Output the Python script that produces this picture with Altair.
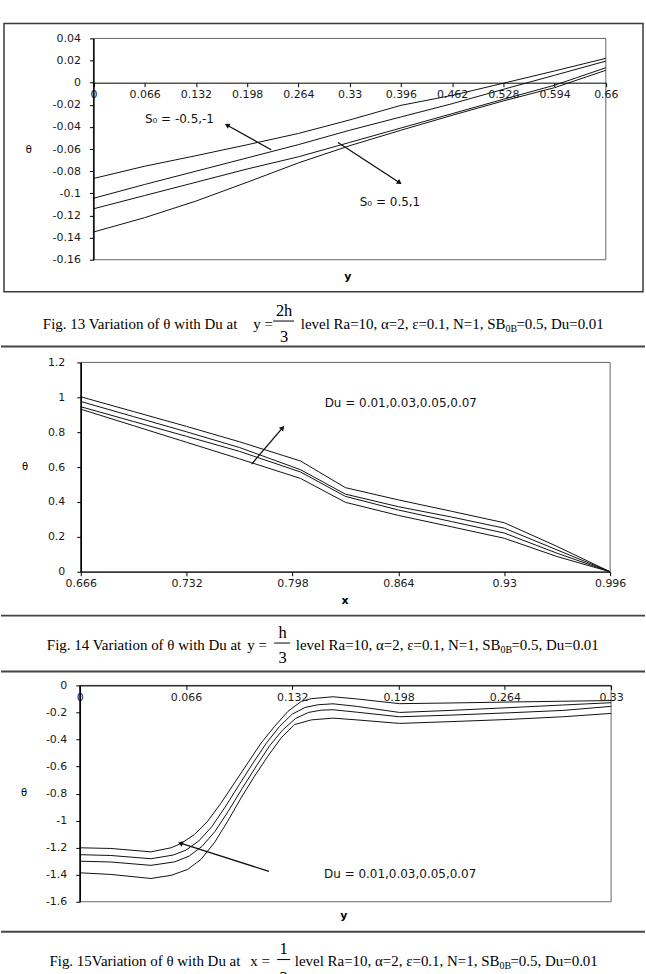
import math
import altair as alt
import pandas as pd

AXF = "DejaVu Sans"
CAPF = "Liberation Serif"
INK = "#111111"

# ================= Fig. 13 : theta vs y =================
f13_x = [0, 0.066, 0.132, 0.198, 0.264, 0.33, 0.396, 0.462, 0.528, 0.594, 0.66]
f13_s1 = [-0.0866, -0.0755, -0.0660, -0.0561, -0.0459, -0.0337, -0.0205, -0.0115, -0.0005, 0.0106, 0.0220]
f13_s2 = [-0.1045, -0.0920, -0.0800, -0.0680, -0.0560, -0.0430, -0.0310, -0.0190, -0.0060, 0.0067, 0.0195]
f13_s3 = [-0.1140, -0.1020, -0.0900, -0.0780, -0.0670, -0.0540, -0.0410, -0.0280, -0.0150, -0.0023, 0.0135]
f13_s4 = [-0.1350, -0.1220, -0.1070, -0.0900, -0.0725, -0.0570, -0.0430, -0.0295, -0.0165, -0.0045, 0.0112]
f13_xticks = [0, 0.066, 0.132, 0.198, 0.264, 0.33, 0.396, 0.462, 0.528, 0.594, 0.66]
f13_yticks = [0.04, 0.02, 0, -0.02, -0.04, -0.06, -0.08, -0.1, -0.12, -0.14, -0.16]
f13_lab_t = ["S\u2080 = -0.5,-1", "S\u2080 = 0.5,1"]
f13_lab_x = [0.1108, 0.382]
f13_lab_y = [-0.033, -0.1075]
f13_arr_tx = [0.229, 0.315]
f13_arr_ty = [-0.0606, -0.054]
f13_arr_hx = [0.173, 0.3935]
f13_arr_hy = [-0.0387, -0.090]

# ================= Fig. 14 : theta vs x =================
f14_x = [0.666, 0.699, 0.732, 0.765, 0.803, 0.831, 0.864, 0.897, 0.93, 0.963, 0.996]
f14_s1 = [1.003, 0.918, 0.833, 0.745, 0.635, 0.482, 0.412, 0.347, 0.281, 0.145, 0.0]
f14_s2 = [0.976, 0.889, 0.802, 0.712, 0.585, 0.445, 0.373, 0.314, 0.250, 0.125, 0.0]
f14_s3 = [0.946, 0.861, 0.776, 0.690, 0.572, 0.432, 0.354, 0.288, 0.222, 0.106, 0.0]
f14_s4 = [0.932, 0.837, 0.742, 0.647, 0.535, 0.398, 0.323, 0.258, 0.192, 0.087, 0.0]
f14_xticks = [0.666, 0.732, 0.798, 0.864, 0.93, 0.996]
f14_yticks = [0, 0.2, 0.4, 0.6, 0.8, 1, 1.2]
f14_lab_t = ["Du = 0.01,0.03,0.05,0.07"]
f14_lab_x = [0.8655]
f14_lab_y = [0.968]
f14_arr_tx = [0.7725]
f14_arr_ty = [0.617]
f14_arr_hx = [0.7915]
f14_arr_hy = [0.822]

# ================= Fig. 15 : theta vs y =================
f15_x1 = [0, 0.0193, 0.0442, 0.0567, 0.0629, 0.0712, 0.0795, 0.0878, 0.0961, 0.1044, 0.1127,
          0.121, 0.1293, 0.1376, 0.1438, 0.1573, 0.172, 0.1986, 0.23, 0.266, 0.30, 0.33]
f15_y1 = [-1.201, -1.206, -1.231, -1.201, -1.169, -1.103, -1.004, -0.869, -0.721, -0.573, -0.425,
          -0.303, -0.192, -0.118, -0.098, -0.084, -0.100, -0.135, -0.130, -0.123, -0.117, -0.112]
f15_x2 = [0, 0.0193, 0.0442, 0.058, 0.066, 0.074, 0.082, 0.09, 0.099, 0.108, 0.116,
          0.124, 0.132, 0.14, 0.148, 0.1573, 0.172, 0.1986, 0.23, 0.266, 0.30, 0.33]
f15_y2 = [-1.252, -1.258, -1.282, -1.255, -1.218, -1.150, -1.045, -0.905, -0.735, -0.567, -0.425,
          -0.305, -0.212, -0.163, -0.143, -0.136, -0.155, -0.200, -0.185, -0.165, -0.145, -0.128]
f15_x3 = [0, 0.0193, 0.0442, 0.059, 0.068, 0.076, 0.084, 0.092, 0.101, 0.11, 0.118,
          0.126, 0.134, 0.142, 0.15, 0.1573, 0.172, 0.1986, 0.23, 0.266, 0.30, 0.33]
f15_y3 = [-1.300, -1.306, -1.331, -1.305, -1.262, -1.190, -1.080, -0.935, -0.760, -0.590, -0.445,
          -0.330, -0.245, -0.200, -0.183, -0.180, -0.198, -0.232, -0.220, -0.203, -0.185, -0.155]
f15_x4 = [0, 0.0193, 0.0442, 0.0567, 0.067, 0.0753, 0.0836, 0.0919, 0.1002, 0.1085, 0.1168,
          0.1251, 0.1334, 0.1438, 0.1573, 0.172, 0.1986, 0.23, 0.266, 0.30, 0.33]
f15_y4 = [-1.386, -1.398, -1.428, -1.405, -1.361, -1.287, -1.164, -1.004, -0.832, -0.672, -0.524,
          -0.388, -0.290, -0.255, -0.242, -0.255, -0.281, -0.268, -0.252, -0.232, -0.207]
f15_xticks = [0, 0.066, 0.132, 0.198, 0.264, 0.33]
f15_yticks = [0, -0.2, -0.4, -0.6, -0.8, -1, -1.2, -1.4, -1.6]
f15_lab_t = ["Du = 0.01,0.03,0.05,0.07"]
f15_lab_x = [0.199]
f15_lab_y = [-1.398]
f15_arr_tx = [0.1175]
f15_arr_ty = [-1.375]
f15_arr_hx = [0.063]
f15_arr_hy = [-1.169]

one = pd.DataFrame({"k": [0]})


def series_df(xs_list, ys_list):
    rows = []
    for i, (xs, ys) in enumerate(zip(xs_list, ys_list)):
        for a, b in zip(xs, ys):
            rows.append({"x": a, "y": b, "s": "s%d" % i})
    return pd.DataFrame(rows)


def txt(s, x, y, size=15, align="left", font=CAPF, weight="normal", baseline="alphabetic"):
    return alt.Chart(one).mark_text(text=s, align=align, baseline=baseline, font=font,
                                    fontSize=size, fontWeight=weight, color="#000").encode(
        x=alt.value(x), y=alt.value(y))


def hline(x1, x2, y, color="#444444", width=2):
    return alt.Chart(one).mark_rule(color=color, strokeWidth=width).encode(
        x=alt.value(x1), x2=alt.value(x2), y=alt.value(y))


def box(x1, x2, y1, y2, stroke="#ffffff", sw=0.0):
    return alt.Chart(one).mark_rect(fill="#ffffff", fillOpacity=0, stroke=stroke, strokeWidth=sw).encode(
        x=alt.value(x1), x2=alt.value(x2), y=alt.value(y1), y2=alt.value(y2))


def make_panel(df, xdom, xrng, ydom, w, h, xticks, yticks, xoff, yoff, ylabpad,
               arrows, labels, before, after):
    xs = alt.Scale(domain=xdom, range=xrng, nice=False, zero=False)
    ys = alt.Scale(domain=ydom, nice=False, zero=False)
    xax = alt.Axis(values=xticks, labelExpr="toString(datum.value)", title=None, grid=False,
                   orient="bottom", offset=xoff, domainColor="#000", domainWidth=1,
                   tickColor="#000", tickSize=4, labelPadding=2, labelFont=AXF,
                   labelFontSize=11, labelColor="#1a1a1a", labelFlush=False,
                   labelOverlap=False, zindex=1)
    yax = alt.Axis(values=yticks, labelExpr="toString(datum.value)", title=None, grid=False,
                   orient="left", offset=yoff, domainColor="#000", domainWidth=1.5,
                   tickColor="#000", tickSize=4, labelPadding=ylabpad, labelFont=AXF,
                   labelFontSize=11, labelColor="#1a1a1a", labelOverlap=False, zindex=1)
    lines = alt.Chart(df).mark_line(color=INK, strokeWidth=1).encode(
        x=alt.X("x:Q", scale=xs, axis=xax), y=alt.Y("y:Q", scale=ys, axis=yax), detail="s:N")

    tx, ty, hx, hy = arrows
    sx = (xrng[1] - xrng[0]) / (xdom[1] - xdom[0])
    sy = h / (ydom[1] - ydom[0])
    ang = [math.degrees(math.atan2((b - a) * sx, (d - c) * sy)) % 360
           for a, b, c, d in zip(tx, hx, ty, hy)]
    adf = pd.DataFrame({"x1": tx, "y1": ty, "x2": hx, "y2": hy, "ang": ang})
    shafts = alt.Chart(adf).mark_rule(color=INK, strokeWidth=1.3).encode(
        x=alt.X("x1:Q", scale=xs, axis=xax), y=alt.Y("y1:Q", scale=ys, axis=yax),
        x2="x2:Q", y2="y2:Q")
    heads = alt.Chart(adf).mark_point(shape="triangle", filled=True, size=32, color=INK, opacity=1).encode(
        x=alt.X("x2:Q", scale=xs, axis=xax), y=alt.Y("y2:Q", scale=ys, axis=yax),
        angle=alt.Angle("ang:Q", scale=None))

    lt, lx, ly = labels
    ldf = pd.DataFrame({"x": lx, "y": ly, "t": lt})
    labs = alt.Chart(ldf).mark_text(font=AXF, fontSize=12, color=INK, align="center",
                                    baseline="middle").encode(
        x=alt.X("x:Q", scale=xs, axis=xax), y=alt.Y("y:Q", scale=ys, axis=yax), text="t:N")

    return alt.layer(*before, lines, shafts, heads, labs, *after).properties(width=w, height=h)


def caption(fig, var, num, den, fx, vx, bar, ncx, base, numb, denb, barY, subx):
    return [
        txt(fig, fx, base),
        txt(var, vx, base),
        hline(bar[0], bar[1], barY, color="#000", width=1),
        txt(num, ncx, numb, size=16.5, align="center"),
        txt(den, ncx, denb, size=16.5, align="center"),
        txt("level Ra=10, \u03b1=2, \u03b5=0.1, N=1, SB", subx, base, align="right"),
        txt("0B", subx, base + 3.5, size=10),
        txt("=0.5, Du=0.01", subx + 11, base),
    ]


# ---------- panel 1 (plot origin at page x=79, y=37) ----------
p1 = make_panel(
    series_df([f13_x] * 4, [f13_s1, f13_s2, f13_s3, f13_s4]),
    [0, 0.66], [13.7, 527.7], [-0.16, 0.04], 528, 222,
    f13_xticks, f13_yticks, -177.6, -13.7, 9,
    (f13_arr_tx, f13_arr_ty, f13_arr_hx, f13_arr_hy),
    (f13_lab_t, f13_lab_x, f13_lab_y),
    [box(-79, 567, -37, 308),
     box(-76, 565, -15, 254, stroke="#3a3a3a", sw=1.5),
     box(13.7, 527.7, 0, 222, stroke="#666666", sw=1)],
    [txt("\u03b8", -51, 112, size=10, align="center", font=AXF, baseline="middle"),
     txt("y", 269, 239, size=11, align="center", font=AXF, weight="bold", baseline="middle")]
    + caption("Fig. 13 Variation of \u03b8 with Du at", "y =", "2h", "3",
              -37, 174, (194, 215), 205, 291, 278.5, 304.5, 283.5, 427),
)

# ---------- panel 2 (plot origin at page x=79, y=362) ----------
p2 = make_panel(
    series_df([f14_x] * 4, [f14_s1, f14_s2, f14_s3, f14_s4]),
    [0.666, 0.996], [1, 532], [0, 1.2], 532, 210,
    f14_xticks, f14_yticks, 0, -1, 12,
    (f14_arr_tx, f14_arr_ty, f14_arr_hx, f14_arr_hy),
    (f14_lab_t, f14_lab_x, f14_lab_y),
    [box(-79, 567, -17, 307),
     hline(-79, 567, -16),
     hline(-79, 567, 254),
     box(1, 532, 0, 210, stroke="#666666", sw=1)],
    [txt("\u03b8", -55, 105, size=10, align="center", font=AXF, baseline="middle"),
     txt("x", 266, 239, size=11, align="center", font=AXF, weight="bold", baseline="middle")]
    + caption("Fig. 14 Variation of \u03b8 with Du at", "y =", "h", "3",
              -33, 168, (195, 211), 203.5, 288, 276.5, 302, 281.5, 422),
)

# ---------- panel 3 (plot origin at page x=79, y=686) ----------
p3 = make_panel(
    series_df([f15_x1, f15_x2, f15_x3, f15_x4], [f15_y1, f15_y2, f15_y3, f15_y4]),
    [0, 0.33], [0, 533], [-1.6, 0], 533, 217,
    f15_xticks, f15_yticks, -217, 0, 9,
    (f15_arr_tx, f15_arr_ty, f15_arr_hx, f15_arr_hy),
    (f15_lab_t, f15_lab_x, f15_lab_y),
    [box(-79, 567, -17, 288),
     hline(-79, 567, -14),
     hline(-79, 567, 247),
     box(0, 533, 0, 217, stroke="#666666", sw=1)],
    [txt("\u03b8", -56, 108, size=10, align="center", font=AXF, baseline="middle"),
     txt("y", 265, 231, size=11, align="center", font=AXF, weight="bold", baseline="middle")]
    + caption("Fig. 15Variation of \u03b8 with Du at", "x =", "1", "3",
              -30.4, 171, (198, 211), 204.5, 281, 269.5, 299, 275, 421),
)

chart = alt.vconcat(p1, p2, p3, spacing=0).properties(
    padding=0, background="white"
).configure_view(strokeWidth=0)

chart.save("out.html", embed_options={"renderer": "svg", "actions": False})
